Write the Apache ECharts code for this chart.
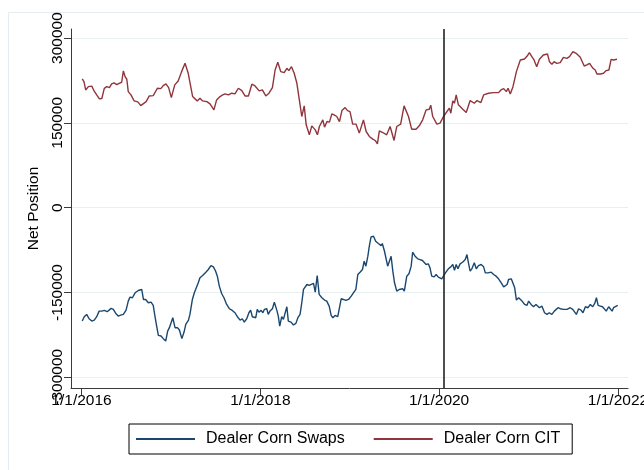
<!DOCTYPE html>
<html>
<head>
<meta charset="utf-8">
<script src="https://cdn.jsdelivr.net/npm/echarts@6/dist/echarts.min.js"></script>
<style>
  html, body { margin: 0; padding: 0; background: #fff; }
  #chart { width: 644px; height: 470px; }
</style>
</head>
<body>
<div id="chart"></div>
<script>
// Weekly dealer net positions in corn (contracts)
const citDates = [
  '2016-01-04','2016-01-11','2016-01-18','2016-01-29','2016-02-05','2016-02-12','2016-02-16','2016-02-22',
  '2016-03-03','2016-03-14','2016-03-24','2016-04-03','2016-04-13','2016-04-24','2016-05-03','2016-05-13',
  '2016-05-24','2016-06-03','2016-06-13','2016-06-20','2016-06-27','2016-07-04','2016-07-10','2016-07-21',
  '2016-08-03','2016-08-18','2016-08-30','2016-09-10','2016-09-21','2016-10-04','2016-10-20','2016-11-06',
  '2016-11-20','2016-11-30','2016-12-11','2016-12-22','2017-01-02','2017-01-16','2017-01-30','2017-02-13',
  '2017-02-27','2017-03-12','2017-03-19','2017-03-30','2017-04-09','2017-04-18','2017-04-29','2017-05-10',
  '2017-05-27','2017-06-09','2017-06-25','2017-07-06','2017-07-20','2017-07-31','2017-08-09','2017-08-23',
  '2017-09-06','2017-09-19','2017-10-03','2017-10-17','2017-10-30','2017-11-13','2017-11-27','2017-12-10',
  '2017-12-27','2018-01-09','2018-01-23','2018-02-05','2018-02-19','2018-03-02','2018-03-13','2018-03-25',
  '2018-04-08','2018-04-19','2018-04-27','2018-05-08','2018-05-19','2018-05-30','2018-06-09','2018-06-19',
  '2018-06-29','2018-07-07','2018-07-20','2018-07-30','2018-08-13','2018-08-22','2018-08-30','2018-09-13',
  '2018-09-20','2018-09-30','2018-10-10','2018-10-20','2018-10-29','2018-11-09','2018-11-20','2018-11-30',
  '2018-12-13','2018-12-23','2019-01-02','2019-01-13','2019-01-27','2019-02-09','2019-02-26','2019-03-09',
  '2019-03-22','2019-04-05','2019-04-15','2019-04-24','2019-05-02','2019-05-16','2019-06-01','2019-06-15',
  '2019-07-01','2019-07-12','2019-07-28','2019-08-11','2019-08-29','2019-09-11','2019-09-29','2019-10-12',
  '2019-10-26','2019-11-09','2019-11-22','2019-11-28','2019-12-06','2019-12-23','2020-01-05','2020-01-19',
  '2020-02-02','2020-02-12','2020-02-18','2020-02-26','2020-03-04','2020-03-11','2020-03-20','2020-04-07',
  '2020-04-21','2020-05-07','2020-05-24','2020-06-04','2020-06-20','2020-07-01','2020-07-21','2020-08-11',
  '2020-08-31','2020-09-10','2020-09-21','2020-10-02','2020-10-09','2020-10-18','2020-10-29','2020-11-12',
  '2020-11-28','2020-12-15','2020-12-26','2021-01-04','2021-01-14','2021-01-23','2021-02-03','2021-02-14',
  '2021-03-02','2021-03-09','2021-03-19','2021-03-27','2021-04-06','2021-04-15','2021-04-26','2021-05-10',
  '2021-05-23','2021-06-06','2021-06-17','2021-07-01','2021-07-14','2021-07-31','2021-08-16','2021-08-27',
  '2021-09-07','2021-09-21','2021-09-30','2021-10-07','2021-10-21','2021-11-03','2021-11-14','2021-11-25',
  '2021-12-04','2021-12-14','2021-12-28'
];
const citValues = [
  227600,222900,208200,214000,217000,215000,218000,206000,
  199400,192400,193000,211000,214000,212300,218800,220600,
  217600,220000,221800,241800,231700,227100,205200,199400,
  188800,187100,180500,184100,187600,197600,198200,211200,
  210500,215800,218800,212300,194700,217100,224100,240600,
  255300,237700,237700,196500,192400,188800,193600,188800,
  187600,183500,172900,190600,196500,199400,201200,199400,
  202400,201200,211200,207000,197600,197600,218300,215300,
  206500,208200,197600,202400,212300,243500,257100,240600,
  238800,246500,242400,249400,237700,220000,190600,161200,
  180000,146500,128800,144700,137600,128800,143500,155300,
  142300,152300,151200,165900,164100,161200,152300,171700,
  177000,171700,170000,147700,147700,131800,155300,134700,
  125900,121200,118800,112900,135900,132900,128800,143500,
  118800,143500,147700,180000,161200,138800,138800,144700,
  155300,172900,174100,181200,161200,147700,149400,161200,
  170000,176000,167100,188800,184700,199400,181800,174100,
  168200,189400,184700,189400,185900,199400,202400,203500,
  203500,208200,210500,205200,211200,201200,214000,240600,
  261200,262900,268200,274100,267000,261200,249400,262400,
  270000,267000,271800,258200,253600,258200,255300,256500,
  265900,264100,267000,275800,273000,265900,250600,252400,
  255300,246500,243500,236500,236500,237700,242400,243500,
  262400,261200,262400
];

const swapDates = [
  '2016-01-04','2016-01-12','2016-01-22','2016-02-01','2016-02-12','2016-02-22','2016-03-03','2016-03-13',
  '2016-03-24','2016-04-03','2016-04-15','2016-05-01','2016-05-10','2016-05-20','2016-05-30','2016-06-09',
  '2016-06-20','2016-07-01','2016-07-10','2016-07-17','2016-07-27','2016-08-07','2016-08-20','2016-09-03',
  '2016-09-10','2016-09-19','2016-09-30','2016-10-11','2016-10-20','2016-10-27','2016-11-03','2016-11-10',
  '2016-11-21','2016-11-30','2016-12-10','2016-12-18','2016-12-25','2017-01-01','2017-01-08','2017-01-17',
  '2017-01-27','2017-02-04','2017-02-14','2017-02-23','2017-03-02','2017-03-13','2017-03-19','2017-03-29',
  '2017-04-06','2017-04-13','2017-04-22','2017-04-29','2017-05-10','2017-05-23','2017-06-02','2017-06-13',
  '2017-06-23','2017-07-02','2017-07-09','2017-07-17','2017-07-27','2017-08-05','2017-08-16','2017-08-27',
  '2017-09-08','2017-09-19','2017-09-29','2017-10-10','2017-10-19','2017-10-27','2017-11-06','2017-11-15',
  '2017-11-22','2017-11-29','2017-12-07','2017-12-13','2017-12-19','2017-12-26','2018-01-04','2018-01-11',
  '2018-01-17','2018-01-27','2018-02-02','2018-02-09','2018-02-19','2018-02-27','2018-03-05','2018-03-10',
  '2018-03-15','2018-03-21','2018-03-29','2018-04-05','2018-04-12','2018-04-19','2018-04-25','2018-05-06',
  '2018-05-16','2018-05-26','2018-06-03','2018-06-12','2018-06-19','2018-06-26','2018-07-03','2018-07-10',
  '2018-07-19','2018-07-27','2018-08-06','2018-08-13','2018-08-21','2018-08-29','2018-09-09','2018-09-20',
  '2018-09-29','2018-10-09','2018-10-17','2018-10-24','2018-11-02','2018-11-13','2018-11-20','2018-11-27',
  '2018-12-06','2018-12-16','2018-12-27','2019-01-07','2019-01-16','2019-01-26','2019-02-03','2019-02-12',
  '2019-02-22','2019-03-01','2019-03-08','2019-03-16','2019-03-22','2019-03-29','2019-04-08','2019-04-17',
  '2019-04-28','2019-05-09','2019-05-14','2019-05-23','2019-05-28','2019-06-05','2019-06-12','2019-06-19',
  '2019-06-26','2019-07-03','2019-07-12','2019-07-22','2019-07-30','2019-08-06','2019-08-12','2019-08-22',
  '2019-08-31','2019-09-09','2019-09-15','2019-09-25','2019-10-06','2019-10-15','2019-10-25','2019-11-02',
  '2019-11-09','2019-11-18','2019-11-25','2019-12-02','2019-12-12','2019-12-20','2019-12-29','2020-01-05',
  '2020-01-12','2020-01-19','2020-01-29','2020-02-08','2020-02-18','2020-02-26','2020-03-04','2020-03-11',
  '2020-03-18','2020-03-27','2020-04-06','2020-04-17','2020-04-24','2020-04-30','2020-05-07','2020-05-14',
  '2020-05-24','2020-06-01','2020-06-10','2020-06-21','2020-07-01','2020-07-08','2020-07-19','2020-08-01',
  '2020-08-11','2020-08-21','2020-08-31','2020-09-11','2020-09-21','2020-09-28','2020-10-05','2020-10-11',
  '2020-10-22','2020-10-28','2020-11-05','2020-11-12','2020-11-21','2020-11-28','2020-12-05','2020-12-16',
  '2020-12-25','2021-01-01','2021-01-11','2021-01-21','2021-01-31','2021-02-06','2021-02-14','2021-02-24',
  '2021-03-07','2021-03-17','2021-03-26','2021-04-06','2021-04-16','2021-04-23','2021-05-01','2021-05-10',
  '2021-05-24','2021-06-07','2021-06-20','2021-06-30','2021-07-08','2021-07-15','2021-07-24','2021-08-03',
  '2021-08-11','2021-08-21','2021-09-01','2021-09-10','2021-09-20','2021-09-28','2021-10-05','2021-10-12',
  '2021-10-21','2021-10-30','2021-11-07','2021-11-14','2021-11-24','2021-12-01','2021-12-08','2021-12-14',
  '2021-12-21','2021-12-31'
];
const swapValues = [
  -200600,-192900,-188800,-196500,-200600,-198900,-192900,-183000,
  -183000,-181800,-184100,-178200,-180000,-187100,-191800,-190000,
  -188800,-181200,-165300,-158300,-159400,-150600,-146500,-144700,
  -162400,-162400,-168200,-167100,-172900,-191800,-209400,-225900,
  -227100,-231700,-235900,-218300,-212300,-214100,-194700,-212300,
  -212300,-216500,-231700,-220000,-206500,-198900,-188800,-162400,
  -150600,-149400,-132900,-124100,-120000,-114100,-109400,-102400,
  -104700,-112400,-121200,-138800,-152300,-159400,-171200,-178800,
  -181800,-185900,-192900,-198900,-196500,-202400,-196500,-185900,
  -181200,-192900,-190600,-194700,-180000,-184700,-181800,-185900,
  -180000,-178800,-188800,-183000,-178800,-167100,-165300,-183000,
  -191800,-209400,-192900,-197600,-197600,-175300,-200600,-202400,
  -207600,-204700,-194700,-188800,-168200,-144700,-141800,-135900,
  -137600,-140000,-134100,-149400,-120000,-153500,-159400,-163500,
  -165300,-174100,-190600,-194700,-190600,-192900,-192900,-161200,
  -162400,-164100,-162400,-156500,-150600,-144700,-118200,-114100,
  -109400,-94700,-103500,-85900,-68200,-51800,-50600,-59400,
  -63500,-67100,-63500,-77100,-74100,-103500,-106500,-85900,
  -112400,-132900,-147700,-144700,-146500,-143500,-147700,-121200,
  -117000,-103500,-78800,-85900,-90600,-91800,-93500,-94700,
  -100600,-99400,-106500,-121200,-122400,-118200,-122900,-120000,
  -125900,-128300,-114100,-108200,-104700,-100600,-110600,-100600,
  -108200,-99400,-96500,-91800,-82900,-97600,-112400,-108200,
  -97600,-108200,-102400,-100600,-104700,-115300,-115300,-114100,
  -118200,-121200,-125900,-132900,-140000,-141800,-135900,-127100,
  -125900,-128300,-141800,-163500,-159400,-160600,-165300,-171200,
  -172900,-165300,-171200,-175300,-171200,-168200,-177000,-174100,
  -185900,-188800,-185900,-188800,-183000,-180000,-177000,-178800,
  -180000,-180000,-177000,-180000,-183000,-188800,-178800,-181200,
  -185900,-175300,-177000,-171200,-175300,-169400,-159400,-172900,
  -174100,-175300,-177000,-183000,-175300,-178800,-183000,-177000,
  -175300,-172900
];

const yTicks = [-300000, -150000, 0, 150000, 300000];
const xTickDates = ['2016-01-01', '2018-01-01', '2020-01-01', '2022-01-01'];
const eventDate = '2020-01-22';
const seriesNames = ['Dealer Corn Swaps', 'Dealer Corn CIT'];

const FONT = 'Liberation Sans';
const toTime = s => { const p = s.split('-').map(Number); return new Date(p[0], p[1] - 1, p[2]).getTime(); };
const pair = (dates, vals) => dates.map((d, i) => [toTime(d), vals[i]]);

const chart = echarts.init(document.getElementById('chart'), null, { renderer: 'canvas' });

chart.setOption({
  backgroundColor: '#ffffff',
  animation: false,
  textStyle: { fontFamily: FONT },
  graphic: [{
    type: 'rect',
    silent: true,
    z: -10,
    shape: { x: 8.5, y: 12.5, width: 640, height: 470 },
    style: { fill: 'none', stroke: '#e3ecee', lineWidth: 1 }
  }],
  grid: { left: 71, right: 16, top: 29, bottom: 82, containLabel: false, outerBoundsMode: 'none' },
  legend: {
    data: seriesNames,
    left: 129,
    top: 424,
    orient: 'horizontal',
    padding: [7, 12, 7, 7],
    itemGap: 29,
    itemWidth: 59,
    itemHeight: 2,
    icon: 'rect',
    borderColor: '#000',
    borderWidth: 1,
    borderRadius: 0,
    textStyle: { fontFamily: FONT, fontSize: 16, color: '#000', padding: [0, 0, 0, 6] }
  },
  // timestamps on a plain value scale so ticks can sit exactly on New Year's Day
  xAxis: {
    type: 'value',
    min: toTime('2015-11-19'),
    max: toTime('2022-02-11'),
    axisLine: { show: true, onZero: false, lineStyle: { color: '#3a3a3a', width: 1 } },
    axisTick: { show: true, length: 7, lineStyle: { color: '#3a3a3a' }, customValues: xTickDates.map(toTime) },
    axisLabel: {
      customValues: xTickDates.map(toTime),
      fontFamily: FONT, fontSize: 15.5, color: '#000', margin: 5,
      hideOverlap: false,
      formatter: v => { const d = new Date(v); return (d.getMonth() + 1) + '/' + d.getDate() + '/' + d.getFullYear(); }
    },
    splitLine: { show: false }
  },
  yAxis: {
    type: 'value',
    min: -319000,
    max: 316000,
    name: 'Net Position',
    nameLocation: 'middle',
    nameGap: 26,
    nameRotate: 90,
    nameTextStyle: { fontFamily: FONT, fontSize: 15.5, color: '#000' },
    axisLine: { show: true, lineStyle: { color: '#3a3a3a', width: 1 } },
    axisTick: { show: true, length: 7, lineStyle: { color: '#3a3a3a' }, customValues: yTicks },
    axisLabel: {
      customValues: yTicks,
      rotate: 90,
      fontFamily: FONT, fontSize: 15.5, color: '#000', margin: 5,
      formatter: v => String(v)
    },
    splitLine: { show: true, lineStyle: { color: '#e8f0f2', width: 1 } }
  },
  series: [
    {
      name: seriesNames[0],
      type: 'line',
      data: pair(swapDates, swapValues),
      showSymbol: false,
      symbol: 'none',
      color: '#1a476f',
      lineStyle: { color: '#1a476f', width: 1.4 },
      z: 3
    },
    {
      name: seriesNames[1],
      type: 'line',
      data: pair(citDates, citValues),
      showSymbol: false,
      symbol: 'none',
      color: '#90353b',
      lineStyle: { color: '#90353b', width: 1.4 },
      z: 3,
      markLine: {
        silent: true,
        symbol: ['none', 'none'],
        label: { show: false },
        lineStyle: { color: '#222', width: 1.6, type: 'solid' },
        data: [{ xAxis: toTime(eventDate) }]
      }
    }
  ]
});
</script>
</body>
</html>
